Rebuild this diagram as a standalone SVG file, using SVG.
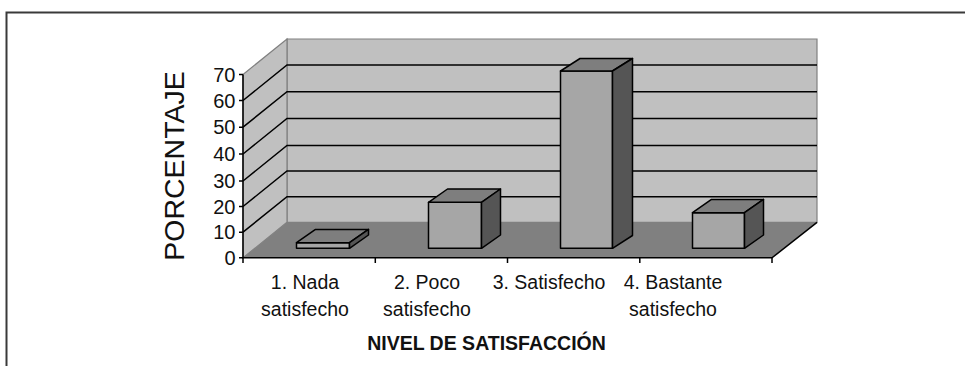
<svg xmlns="http://www.w3.org/2000/svg" width="965" height="366" viewBox="0 0 965 366">
<style>
.t{font-family:"Liberation Sans",Arial,sans-serif;fill:#111}
.yl{font-size:20px;text-anchor:end}
.cl{font-size:19.5px;text-anchor:middle}
.grid{stroke:#000;stroke-width:1.5;fill:none}
.wall{fill:#c0c0c0;stroke:#808080;stroke-width:1.2}
.front{fill:#a6a6a6;stroke:#000;stroke-width:1.5;stroke-linejoin:round}
.top{fill:#7e7e7e;stroke:#000;stroke-width:1.5;stroke-linejoin:round}
.side{fill:#555;stroke:#000;stroke-width:1.5;stroke-linejoin:round}
.ax{stroke:#000;stroke-width:1.5;fill:none}
</style>
<rect width="965" height="366" fill="#fff"/>
<g id="frame">
<path d="M6.5 366 V12.5 H965" fill="none" stroke="#3a3a3a" stroke-width="2"/>
</g>
<g id="walls">
<polygon class="wall" points="287,39 817,39 817,222.3 287,222.3"/>
<polygon class="wall" points="243,74.5 287,39 287,222.3 243,257.8"/>
<polygon points="243,257.8 287,222.3 817,222.3 772,257.8" fill="#808080"/>
</g>
<g id="gridlines">
<path class="grid" d="M243 232.2 L287 196.7 H817 M243 206.5 L287 171 H817 M243 181 L287 145.5 H817 M243 154 L287 118.5 H817 M243 127.2 L287 91.7 H817 M243 100.5 L287 65 H817"/>
</g>
<g id="axes">
<path class="ax" d="M243 74.5 V257.8 H772 L817 222.3"/>
<path class="ax" d="M239 74.5 H243 M239 100.5 H243 M239 127.2 H243 M239 154 H243 M239 181 H243 M239 206.5 H243 M239 232.2 H243 M239 257.8 H243"/>
<path class="ax" d="M243 257.8 V263 M375.3 257.8 V263 M507.5 257.8 V263 M639.8 257.8 V263 M772 257.8 V263"/>
</g>
<g id="bar1">
<rect class="front" x="296.5" y="242.7" width="53" height="5.6"/>
<polygon class="top" points="296.5,242.7 315.5,229.4 368.5,229.4 349.5,242.7"/>
<polygon class="side" points="349.5,242.7 368.5,229.4 368.5,235 349.5,248.3"/>
</g>
<g id="bar2">
<rect class="front" x="428.5" y="202.3" width="53" height="46"/>
<polygon class="top" points="428.5,202.3 447.5,189 500.5,189 481.5,202.3"/>
<polygon class="side" points="481.5,202.3 500.5,189 500.5,235 481.5,248.3"/>
</g>
<g id="bar3">
<rect class="front" x="560.5" y="71" width="52" height="177.3"/>
<polygon class="top" points="560.5,71 580,58.5 632.5,58.5 612.5,71"/>
<polygon class="side" points="612.5,71 632.5,58.5 632.5,235.5 612.5,248.3"/>
</g>
<g id="bar4">
<rect class="front" x="692.5" y="212.7" width="52" height="35.6"/>
<polygon class="top" points="692.5,212.7 711.5,199.4 763.5,199.4 744.5,212.7"/>
<polygon class="side" points="744.5,212.7 763.5,199.4 763.5,235 744.5,248.3"/>
</g>
<g id="ylabels" class="t yl">
<text x="235.5" y="81.5">70</text>
<text x="235.5" y="107.5">60</text>
<text x="235.5" y="134.2">50</text>
<text x="235.5" y="161">40</text>
<text x="235.5" y="188">30</text>
<text x="235.5" y="213.5">20</text>
<text x="235.5" y="239.2">10</text>
<text x="235.5" y="264.8">0</text>
</g>
<g id="ytitle">
<text class="t" font-size="28.5" text-anchor="middle" transform="translate(184,166) rotate(-90)">PORCENTAJE</text>
</g>
<g id="xlabels" class="t cl">
<text x="305" y="289">1. Nada</text>
<text x="305" y="316">satisfecho</text>
<text x="427" y="289">2. Poco</text>
<text x="427" y="316">satisfecho</text>
<text x="549" y="289">3. Satisfecho</text>
<text x="673" y="289">4. Bastante</text>
<text x="673" y="316">satisfecho</text>
</g>
<g id="xtitle">
<text class="t" x="486.5" y="350" font-size="19.5" font-weight="bold" text-anchor="middle">NIVEL DE SATISFACCIÓN</text>
</g>
</svg>
